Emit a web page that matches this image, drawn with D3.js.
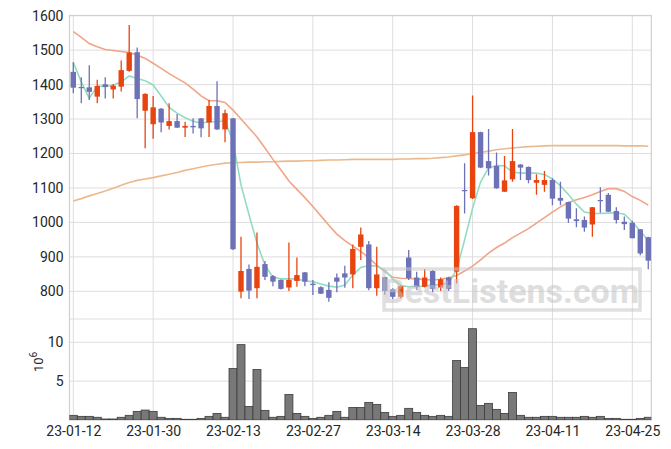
<!DOCTYPE html>
<html>
<head>
<meta charset="utf-8">
<script src="https://cdn.jsdelivr.net/npm/d3@7"></script>
<style>
  body { margin: 0; background: #fff; }
  svg text { font-family: Roboto, "Noto Sans", sans-serif; }
</style>
</head>
<body>
<svg id="chart"></svg>
<script>
const width = 671;
const height = 449;

// trading days (yy-mm-dd)
const dates = ['23-01-12','23-01-13','23-01-16','23-01-17','23-01-18','23-01-19','23-01-20','23-01-25','23-01-26','23-01-27',
  '23-01-30','23-01-31','23-02-01','23-02-02','23-02-03','23-02-06','23-02-07','23-02-08','23-02-09','23-02-10',
  '23-02-13','23-02-14','23-02-15','23-02-16','23-02-17','23-02-20','23-02-21','23-02-22','23-02-23','23-02-24',
  '23-02-27','23-02-28','23-03-02','23-03-03','23-03-06','23-03-07','23-03-08','23-03-09','23-03-10','23-03-13',
  '23-03-14','23-03-15','23-03-16','23-03-17','23-03-20','23-03-21','23-03-22','23-03-23','23-03-24','23-03-27',
  '23-03-28','23-03-29','23-03-30','23-03-31','23-04-03','23-04-04','23-04-05','23-04-06','23-04-07','23-04-10',
  '23-04-11','23-04-12','23-04-13','23-04-14','23-04-17','23-04-18','23-04-19','23-04-20','23-04-21','23-04-24',
  '23-04-25','23-04-26','23-04-27'];

const open  = [1437,1393,1392,1365,1401,1386,1394,1440,1494,1324, 1285,1330,1280,1294,1275,1280,1302,1290,1338,1270,
  1302,799,865,809,879,844,833,811,830,855, 822,812,804,840,852,849,929,936,809,841,
  806,784,898,840,813,859,811,840,857,1094, 1070,1262,1178,1164,1089,1125,1168,1161,1115,1109,
  1123,1071,1059,1009,1007,994,1065,1080,1033,1002, 999,980,957];
const high  = [1465,1421,1456,1414,1421,1402,1470,1573,1508,1375, 1367,1332,1346,1315,1292,1302,1303,1355,1410,1327,
  1303,958,878,971,888,847,834,942,898,856, 833,815,826,852,874,936,985,946,929,842,
  809,817,920,857,865,862,840,842,1050,1172, 1368,1263,1271,1203,1193,1271,1169,1162,1140,1149,
  1128,1118,1060,1041,1017,1045,1102,1085,1044,1017, 1005,981,958];
const low   = [1375,1346,1355,1346,1360,1360,1380,1437,1302,1215, 1243,1262,1270,1275,1248,1258,1247,1248,1268,1233,
  920,780,778,780,833,815,805,801,813,815, 789,792,770,797,810,809,891,803,787,790,
  778,780,833,804,811,797,801,801,823,1026, 1068,1158,1136,1098,1088,1118,1123,1114,1080,1089,
  1050,1050,999,986,973,958,1028,1030,997,978, 954,905,864];
const close = [1391,1390,1379,1396,1393,1397,1442,1493,1358,1373, 1334,1290,1294,1275,1280,1276,1273,1338,1270,1317,
  922,859,802,871,842,828,807,833,847,828, 818,793,781,828,840,923,965,809,849,801,
  784,815,838,813,840,807,835,807,1048,1092, 1262,1159,1157,1099,1122,1178,1159,1123,1123,1123,
  1069,1063,1011,1004,985,1044,1062,1031,1007,995, 954,910,889];

// volume, millions of shares
const volume = [0.60,0.47,0.47,0.35,0.13,0.13,0.35,0.60,1.11,1.28, 1.11,0.35,0.21,0.21,0.09,0.09,0.21,0.47,0.85,0.35,
  6.62,9.70,1.75,6.50,1.24,0.35,0.47,3.29,0.85,0.47, 0.21,0.35,0.60,1.11,0.35,1.62,1.62,2.27,2.01,0.98,
  0.47,0.60,1.50,0.98,0.60,0.47,0.60,0.47,7.65,6.75, 11.75,1.88,2.14,1.37,0.85,3.55,0.60,0.35,0.35,0.47,
  0.47,0.35,0.35,0.35,0.47,0.35,0.47,0.21,0.21,0.09, 0.09,0.21,0.35];

// moving averages
const ma5 = [1465,1408,1360,1396,1394,1399,1408,1425,1418,1411, 1399,1367,1334,1317,1304,1294,1288,1292,1292,1295,
  1235,1109,1022,940,876,841,836,836,836,830, 828,821,815,812,818,847,869,875,873,862,
  836,817,813,813,815,818,820,824,862,949, 1041,1117,1158,1165,1164,1146,1143,1143,1143,1139,
  1126,1106,1081,1053,1030,1026,1026,1027,1028,1024, 1002,974,948];
const ma20 = [1554,1537,1519,1510,1502,1499,1496,1493,1486,1476, 1462,1447,1432,1418,1405,1387,1367,1353,1353,1348,
  1326,1300,1274,1248,1216,1183,1152,1120,1096,1072, 1046,1019,992,966,947,931,916,897,876,857,
  841,838,837,836,834,833,835,839,846,859, 873,891,911,927,940,956,969,982,998,1014,
  1030,1045,1058,1066,1072,1080,1090,1098,1098,1090, 1075,1064,1050];
const ma60 = [1062,1069,1077,1084,1091,1099,1108,1116,1122,1126, 1130,1135,1140,1145,1151,1156,1161,1165,1169,1172,
  1173,1174,1175,1175,1176,1176,1177,1178,1178,1179, 1179,1180,1181,1181,1182,1183,1183,1183,1183,1183,
  1183,1184,1184,1185,1185,1186,1188,1190,1193,1196, 1200,1203,1207,1211,1214,1216,1218,1220,1221,1222,
  1223,1223,1223,1223,1223,1223,1223,1223,1223,1222, 1222,1222,1221];

const priceTicks = [800, 900, 1000, 1100, 1200, 1300, 1400, 1500, 1600];
const volTicks = [5, 10];
const dateTicks = [0, 10, 20, 30, 40, 50, 60, 70];

const upColor = '#e8440f';
const downColor = '#6d71b5';

const left = 69.5, right = 651.3;
const priceTop = 15.5, priceBottom = 319;
const volTop = 319, volBottom = 420;

const svg = d3.select('#chart').attr('width', width).attr('height', height);

const x = d3.scaleLinear().domain([0, 70]).range([73.3, 632.3]);
const y = d3.scaleLinear().domain([800, 1600]).range([291.3, 15.7]);
const yVol = d3.scaleLinear().domain([0, 10]).range([420, 342.3]);

svg.append('clipPath').attr('id', 'clip-price')
  .append('rect').attr('x', left).attr('y', priceTop).attr('width', right - left).attr('height', priceBottom - priceTop);
svg.append('clipPath').attr('id', 'clip-vol')
  .append('rect').attr('x', left).attr('y', volTop).attr('width', right - left).attr('height', volBottom - volTop);

// grid
const grid = svg.append('g').attr('stroke', '#dedede').attr('stroke-width', 1);
grid.selectAll('.vg').data(dateTicks).enter().append('line')
  .attr('x1', d => x(d)).attr('x2', d => x(d)).attr('y1', priceTop).attr('y2', volBottom);
grid.selectAll('.hg').data(priceTicks).enter().append('line')
  .attr('x1', left).attr('x2', right).attr('y1', d => y(d)).attr('y2', d => y(d));
grid.selectAll('.vhg').data(volTicks).enter().append('line')
  .attr('x1', left).attr('x2', right).attr('y1', d => yVol(d)).attr('y2', d => yVol(d));
grid.append('line').attr('x1', left).attr('x2', right).attr('y1', volTop).attr('y2', volTop);

// frame
svg.append('rect').attr('x', left).attr('y', priceTop).attr('width', right - left).attr('height', volBottom - priceTop)
  .attr('fill', 'none').attr('stroke', '#d0d0d0').attr('stroke-width', 1.2);

// volume bars
const ids = d3.range(dates.length);
svg.append('g').attr('clip-path', 'url(#clip-vol)')
  .selectAll('rect').data(ids).enter().append('rect')
  .attr('x', i => x(i) - 4)
  .attr('width', 8)
  .attr('y', i => yVol(volume[i]))
  .attr('height', i => yVol(0) - yVol(volume[i]))
  .attr('fill', '#787878')
  .attr('stroke', '#3c3c3c')
  .attr('stroke-width', 0.8);

// moving averages
const pricePlot = svg.append('g').attr('clip-path', 'url(#clip-price)');
const line = d3.line().x((d, i) => x(i)).y(d => y(d));
[[ma60, '#ecb98c'], [ma20, '#f1a487'], [ma5, '#93dcc3']].forEach(([vals, col]) => {
  pricePlot.append('path').datum(vals)
    .attr('fill', 'none').attr('stroke', col).attr('stroke-width', 1.6)
    .attr('d', line);
});

// candles
const candle = pricePlot.selectAll('.candle').data(ids).enter().append('g');
candle.append('line')
  .attr('x1', i => x(i)).attr('x2', i => x(i))
  .attr('y1', i => y(high[i])).attr('y2', i => y(low[i]))
  .attr('stroke', i => close[i] >= open[i] ? upColor : downColor)
  .attr('stroke-width', 1.3);
candle.append('rect')
  .attr('x', i => x(i) - 2.7)
  .attr('width', 5.4)
  .attr('y', i => y(Math.max(open[i], close[i])))
  .attr('height', i => Math.max(1.2, y(Math.min(open[i], close[i])) - y(Math.max(open[i], close[i]))))
  .attr('fill', i => close[i] >= open[i] ? upColor : downColor);

// watermark
const wm = svg.append('g').attr('opacity', 0.55);
wm.append('rect').attr('x', 384).attr('y', 269).attr('width', 256).attr('height', 41)
  .attr('fill', 'none').attr('stroke', '#c8c8c8').attr('stroke-width', 3.5);
wm.append('text').attr('x', 511).attr('y', 303).attr('text-anchor', 'middle')
  .attr('font-size', 34).attr('font-weight', 'bold').attr('fill', '#c4c4c4')
  .text('BestListens.com');

// axes
const yAxis = svg.append('g').attr('transform', `translate(${left},0)`)
  .call(d3.axisLeft(y).tickValues(priceTicks).tickFormat(d3.format('d')).tickSize(0).tickPadding(6));
const volAxis = svg.append('g').attr('transform', `translate(${left},0)`)
  .call(d3.axisLeft(yVol).tickValues(volTicks).tickFormat(d3.format('d')).tickSize(0).tickPadding(6));
const xAxis = svg.append('g').attr('transform', `translate(0,${volBottom})`)
  .call(d3.axisBottom(x).tickValues(dateTicks).tickFormat(i => dates[i]).tickSize(0).tickPadding(6));
[yAxis, volAxis, xAxis].forEach(a => {
  a.select('.domain').remove();
  a.selectAll('text').attr('fill', '#262626').attr('font-size', 14).attr('font-family', 'Roboto, sans-serif');
});

// volume unit label
const unit = svg.append('text')
  .attr('transform', 'translate(43,372) rotate(-90)')
  .attr('font-size', 13).attr('fill', '#262626');
unit.append('tspan').text('10');
unit.append('tspan').attr('dy', -6).attr('font-size', 10).text('6');
</script>
</body>
</html>
